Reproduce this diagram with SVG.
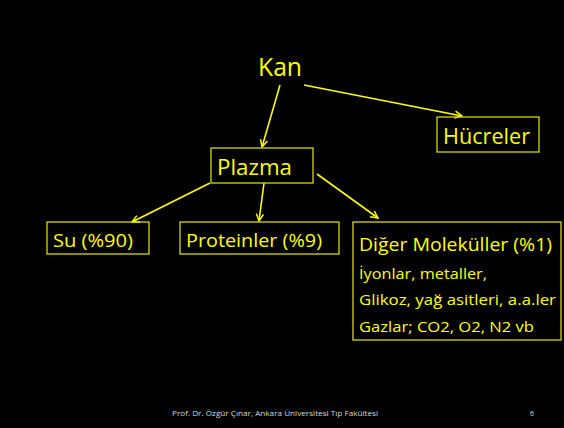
<svg xmlns="http://www.w3.org/2000/svg" width="564" height="428" viewBox="0 0 564 428">
<defs>
<style>
.t{fill:#FFFF00;font-family:"Open Sans","Liberation Sans",sans-serif;}
.box{fill:none;stroke:#D8D800;stroke-width:1.3;}
.c{stroke:#FFFF00;stroke-width:1.6;fill:none;}
</style>
<marker id="ah" viewBox="0 0 10 10" refX="9" refY="5" markerWidth="9" markerHeight="9" orient="auto" markerUnits="userSpaceOnUse">
<path d="M1,1 L9,5 L1,9" fill="none" stroke="#FFFF00" stroke-width="1.6"/>
</marker>
</defs>
<rect width="564" height="428" fill="#000"/>
<g id="connectors">
<line class="c" x1="280" y1="85" x2="262" y2="147" marker-end="url(#ah)"/>
<line class="c" x1="304" y1="85" x2="462" y2="116" marker-end="url(#ah)"/>
<line class="c" x1="210" y1="183" x2="132" y2="222" marker-end="url(#ah)"/>
<line class="c" x1="264" y1="183" x2="259" y2="221" marker-end="url(#ah)"/>
<line class="c" x1="317" y1="174" x2="378" y2="218" marker-end="url(#ah)"/>
</g>
<g id="kan"><text class="t" x="258" y="76" font-size="25" textLength="44" lengthAdjust="spacingAndGlyphs">Kan</text></g>
<g id="hucreler"><rect class="box" x="437" y="117" width="102" height="35"/><text class="t" x="443" y="144" font-size="21" textLength="87" lengthAdjust="spacingAndGlyphs">Hücreler</text></g>
<g id="plazma"><rect class="box" x="211" y="148" width="102" height="35"/><text class="t" x="217" y="175" font-size="21" textLength="75" lengthAdjust="spacingAndGlyphs">Plazma</text></g>
<g id="su"><rect class="box" x="47" y="222" width="102" height="32"/><text class="t" x="53" y="247" font-size="18.5" textLength="80" lengthAdjust="spacingAndGlyphs">Su (%90)</text></g>
<g id="proteinler"><rect class="box" x="180" y="222" width="159" height="32"/><text class="t" x="186" y="247" font-size="18.5" textLength="136" lengthAdjust="spacingAndGlyphs">Proteinler (%9)</text></g>
<g id="diger"><rect class="box" x="353" y="222" width="208" height="118"/>
<text class="t" x="359" y="251" font-size="18.5" textLength="193" lengthAdjust="spacingAndGlyphs">Diğer Moleküller (%1)</text>
<text class="t" x="359" y="279" font-size="15" textLength="128" lengthAdjust="spacingAndGlyphs">İyonlar, metaller,</text>
<text class="t" x="359" y="305" font-size="15" textLength="197" lengthAdjust="spacingAndGlyphs">Glikoz, yağ asitleri, a.a.ler</text>
<text class="t" x="359" y="332" font-size="15" textLength="175" lengthAdjust="spacingAndGlyphs">Gazlar; CO2, O2, N2 vb</text>
</g>
<g id="footer">
<text x="172" y="416" font-size="7" fill="#D8D8D8" font-family="Open Sans,Liberation Sans,sans-serif" textLength="206" lengthAdjust="spacingAndGlyphs">Prof. Dr. Özgür Çınar, Ankara Üniversitesi Tıp Fakültesi</text>
<text x="530" y="416" font-size="7" fill="#D8D8D8" font-family="Open Sans,Liberation Sans,sans-serif">6</text>
</g>
</svg>
